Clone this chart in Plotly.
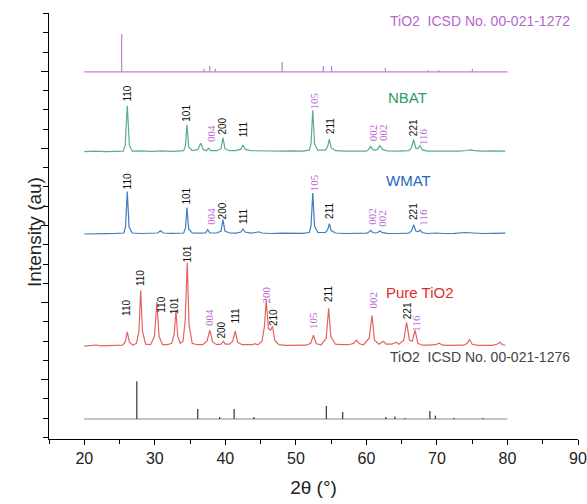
import plotly.graph_objects as go

# ---------------- data (2θ in degrees, intensity in arbitrary units above each pattern's baseline) -------------
nbat_points = [
    (20.0, 0), (21.5, 0.5), (23.0, 0), (24.5, 0.6), (25.5, 0.5), (25.8, 6), (26.1, 46), (26.4, 6), (26.8, 0.5),
    (28.0, 0.8), (29.5, 0.3), (31.0, 0.8), (32.5, 0.4), (34.1, 1), (34.35, 6), (34.56, 27), (34.8, 5), (35.3, 1),
    (36.1, 2), (36.5, 8.5), (36.9, 2), (37.3, 1), (37.6, 3.4), (37.9, 1), (38.8, 1), (39.4, 3), (39.66, 14),
    (39.95, 3), (40.6, 1), (41.5, 1), (42.2, 2.5), (42.5, 6.7), (42.8, 2.5), (43.5, 1), (45.0, 0.6), (46.5, 0.8),
    (48.0, 0.5), (49.5, 0.8), (51.0, 0.6), (51.9, 1.5), (52.15, 8), (52.4, 41.5), (52.65, 8), (53.1, 1.5),
    (54.2, 1.5), (54.5, 5), (54.75, 12.7), (55.0, 4), (55.6, 1), (57.0, 0.5), (58.5, 0.8), (60.0, 0.6),
    (60.3, 2), (60.6, 5.3), (60.9, 2), (61.3, 1.5), (61.6, 2.5), (61.9, 6), (62.3, 2), (63.0, 0.8), (64.5, 0.5),
    (66.0, 1), (66.4, 4), (66.7, 12), (67.0, 3.5), (67.3, 3), (67.6, 6), (67.9, 2), (68.6, 0.6), (70.0, 0.5),
    (71.5, 0.8), (73.0, 0.5), (74.3, 1.2), (74.8, 1.8), (75.3, 1), (76.5, 0.5), (78.0, 0.8), (79.7, 0.5),
]

wmat_points = [
    (20.0, 0), (21.5, 0.5), (23.0, 0.3), (24.5, 0.6), (25.6, 1), (25.85, 7), (26.1, 42.6), (26.35, 7), (26.8, 1),
    (28.0, 0.5), (29.5, 0.6), (30.4, 1), (30.8, 3.3), (31.2, 1), (32.5, 0.6), (34.1, 1), (34.35, 6), (34.56, 26.6),
    (34.8, 5), (35.3, 1), (36.3, 0.8), (37.2, 1), (37.5, 4.3), (37.8, 1), (38.8, 1), (39.4, 3), (39.66, 14.3),
    (39.95, 3), (40.6, 1), (41.5, 0.8), (42.2, 2), (42.5, 5), (42.8, 2), (43.6, 0.8), (44.3, 1.5), (44.7, 2.2),
    (45.2, 1), (46.5, 0.5), (48.0, 0.8), (49.5, 0.5), (51.0, 0.7), (51.9, 1.5), (52.15, 8), (52.4, 41), (52.65, 8),
    (53.1, 1.5), (54.2, 1.5), (54.5, 4), (54.75, 10.3), (55.0, 3.5), (55.6, 1), (57.0, 0.5), (58.5, 0.6),
    (60.0, 0.8), (60.3, 1.5), (60.6, 3.7), (60.9, 1.5), (61.3, 1), (61.6, 1.5), (61.9, 3), (62.3, 1.3), (63.0, 0.6),
    (64.5, 0.5), (66.0, 0.8), (66.4, 3), (66.7, 9.3), (67.0, 3), (67.3, 2.5), (67.6, 3.7), (67.9, 1.5), (68.6, 0.5),
    (69.8, 1), (71.0, 0.5), (72.5, 0.6), (74.0, 1.5), (75.0, 0.8), (76.5, 0.5), (78.0, 0.7), (79.7, 0.8),
]

pure_points = [
    (20.0, 0), (21.0, 0.3), (21.7, 1.2), (22.4, 0.3), (23.5, 0.5), (24.5, 0.3), (25.4, 1), (25.8, 4), (26.1, 14.3),
    (26.4, 4), (26.9, 1), (27.4, 3), (27.75, 15), (28.0, 56), (28.25, 15), (28.7, 2), (29.4, 1.5), (29.95, 10),
    (30.3, 44.3), (30.6, 10), (31.1, 1.5), (31.8, 1.5), (32.4, 3), (32.75, 12), (33.0, 36), (33.25, 10), (33.6, 3),
    (34.0, 5), (34.3, 25), (34.6, 84), (34.85, 22), (35.3, 3), (36.0, 1.5), (36.8, 1.5), (37.4, 5), (37.8, 16),
    (38.2, 4), (38.8, 1.5), (39.4, 2), (39.7, 5), (40.0, 2), (40.6, 2), (41.05, 5), (41.4, 15), (41.75, 4),
    (42.4, 1.5), (43.2, 1.5), (43.9, 1.5), (44.2, 2.5), (44.6, 1.5), (45.2, 5), (45.55, 20), (45.8, 46), (46.1, 18),
    (46.4, 16), (46.7, 20), (47.0, 6), (47.6, 1.5), (48.5, 0.8), (49.5, 1), (50.5, 0.8), (51.5, 1), (52.1, 3),
    (52.5, 11), (52.9, 2.5), (53.6, 1.5), (54.3, 8), (54.65, 38), (54.95, 10), (55.2, 7), (55.6, 2), (56.5, 1.5),
    (57.5, 1.5), (58.2, 3), (58.6, 6), (59.0, 2.5), (59.6, 1.5), (60.4, 8), (60.8, 31), (61.15, 6), (61.8, 2),
    (62.4, 5), (62.8, 2), (63.6, 2), (64.2, 4), (64.6, 2), (65.3, 6), (65.7, 24), (66.1, 6), (66.5, 5), (66.9, 16),
    (67.3, 3), (67.9, 1), (68.8, 1), (69.8, 1.5), (70.3, 3), (70.8, 1), (71.8, 0.8), (72.8, 0.8), (73.8, 1),
    (74.3, 3), (74.6, 7), (75.0, 2), (75.8, 0.8), (76.8, 0.8), (77.8, 0.8), (78.5, 2), (78.9, 4), (79.3, 1.5),
    (79.7, 1),
]

anatase_ref_pos = [25.3, 36.95, 37.8, 38.57, 48.05, 53.89, 55.06, 62.69, 68.76, 70.31, 75.03]
anatase_ref_int = [38, 3, 6, 3, 10, 6, 6, 4, 1.5, 1.5, 3]

rutile_ref_pos = [27.45, 36.09, 39.19, 41.25, 44.05, 54.32, 56.64, 62.75, 64.04, 65.48, 69.0, 69.79, 72.41, 76.51]
rutile_ref_int = [38, 10, 2, 10, 2, 13, 7, 2, 2.5, 1, 8, 3.5, 1, 1]

ref_range = [20, 80]

x_ticks = [20, 30, 40, 50, 60, 70, 80, 90]

# hkl labels: (text, 2θ, height on the y axis, is_purple)
nbat_labels = [("110", 26.17, 346, False), ("101", 34.56, 327, False), ("004", 37.87, 306, True),
               ("200", 39.65, 314, False), ("111", 42.58, 310, False), ("105", 52.52, 339, True),
               ("211", 54.89, 314, False), ("002", 60.87, 307, True), ("002", 62.38, 307, True),
               ("221", 66.67, 312, False), ("116", 67.94, 303, True)]
wmat_labels = [("110", 26.17, 258, False), ("101", 34.56, 244, False), ("004", 37.87, 223, True),
               ("200", 39.65, 229, False), ("111", 42.58, 223, False), ("105", 52.52, 257, True),
               ("211", 54.75, 229, False), ("002", 60.69, 223, True), ("002", 62.1, 221, True),
               ("221", 66.67, 228, False), ("116", 67.9, 222, True)]
pure_labels = [("110", 26.0, 131, False), ("110", 28.0, 161, False), ("110", 30.94, 135, False),
               ("101", 32.72, 134, False), ("101", 34.56, 186, False), ("004", 37.77, 122, True),
               ("200", 39.43, 109, False), ("111", 41.41, 124, False), ("200", 45.79, 144, True),
               ("210", 46.73, 122, False), ("105", 52.52, 119, True), ("211", 54.65, 145, False),
               ("002", 60.97, 139, True), ("221", 65.74, 129, False), ("116", 67.09, 116, True)]

# ---------------- styling / placement ----------------
OFF_ANATASE, OFF_NBAT, OFF_WMAT, OFF_PURE, OFF_RUTILE = 368, 288, 205.5, 93, 20
C_PURPLE = "#c07fd0"
C_GREEN = "#5aad88"
C_BLUE = "#3f7cc4"
C_RED = "#e2645f"
C_GRAY = "#333333"
LBL_PURPLE = "#bb66d6"
FONT = "Arial, Liberation Sans, sans-serif"

fig = go.Figure()


def add_pattern(points, offset, color):
    fig.add_trace(go.Scatter(
        x=[p[0] for p in points], y=[p[1] + offset for p in points],
        mode="lines", line=dict(color=color, width=1.2), hoverinfo="skip", showlegend=False))


def add_sticks(pos, inten, offset, color, base_color):
    fig.add_trace(go.Scatter(x=ref_range, y=[offset, offset], mode="lines",
                             line=dict(color=base_color, width=1.1), hoverinfo="skip", showlegend=False))
    xs, ys = [], []
    for p, h in zip(pos, inten):
        xs += [p, p, None]
        ys += [offset, offset + h, None]
    fig.add_trace(go.Scatter(x=xs, y=ys, mode="lines", line=dict(color=color, width=1.2),
                             hoverinfo="skip", showlegend=False))


add_sticks(anatase_ref_pos, anatase_ref_int, OFF_ANATASE, C_PURPLE, C_PURPLE)
add_pattern(nbat_points, OFF_NBAT, C_GREEN)
add_pattern(wmat_points, OFF_WMAT, C_BLUE)
add_pattern(pure_points, OFF_PURE, C_RED)
add_sticks(rutile_ref_pos, rutile_ref_int, OFF_RUTILE, C_GRAY, "#8a8a8a")

annotations = []
for labels in (nbat_labels, wmat_labels, pure_labels):
    for text, x, y, purple in labels:
        annotations.append(dict(
            x=x, y=y, text=text, showarrow=False, textangle=-90, xanchor="center", yanchor="middle",
            font=dict(family="Liberation Serif, Times New Roman, serif" if purple else FONT,
                      size=11 if purple else 10, color=LBL_PURPLE if purple else "#111111")))

annotations += [
    dict(x=76.1, y=419, text="TiO2  ICSD No. 00-021-1272", showarrow=False,
         font=dict(family=FONT, size=14, color="#b468c8")),
    dict(x=65.8, y=342, text="NBAT", showarrow=False, font=dict(family=FONT, size=15, color="#2f9a6a")),
    dict(x=66.0, y=259, text="WMAT", showarrow=False, font=dict(family=FONT, size=15, color="#2468c0")),
    dict(x=67.6, y=147, text="Pure TiO2", showarrow=False, font=dict(family=FONT, size=15, color="#e0302c")),
    dict(x=76.1, y=82, text="TiO2  ICSD No. 00-021-1276", showarrow=False,
         font=dict(family=FONT, size=14, color="#444444")),
    dict(x=-0.051, y=0.485, xref="paper", yref="paper", text="Intensity (au)", showarrow=False,
         textangle=-90, font=dict(family=FONT, size=19, color="#222222")),
]
fig.update_layout(annotations=annotations)

fig.update_layout(
    width=587, height=504,
    margin=dict(l=49, r=9, t=13, b=65, autoexpand=False),
    paper_bgcolor="white", plot_bgcolor="white",
    font=dict(family=FONT, color="#222222"),
    xaxis=dict(
        range=[15, 90], tickmode="array", tickvals=x_ticks, ticks="outside", ticklen=5, tickwidth=1.2,
        tickcolor="black", showline=True, linecolor="black", linewidth=1.4, showgrid=False, zeroline=False,
        automargin=False, tickfont=dict(size=16, color="#222222"),
        minor=dict(tickmode="linear", tick0=15, dtick=5, ticks="outside", ticklen=4, tickcolor="black", tickwidth=1.2),
        title=dict(text="2θ (°)", font=dict(size=19, color="#222222"), standoff=14),
    ),
    yaxis=dict(
        range=[0, 427], tickmode="linear", tick0=59.6, dtick=77.2, ticks="outside", ticklen=7, tickwidth=1.2,
        tickcolor="black", showticklabels=False, showline=True, linecolor="black", linewidth=1.4,
        showgrid=False, zeroline=False, automargin=False,
        minor=dict(tickmode="linear", tick0=21, dtick=19.3, ticks="outside", ticklen=5, tickcolor="black", tickwidth=1.2),
    ),
)

fig.write_html("out.html")
